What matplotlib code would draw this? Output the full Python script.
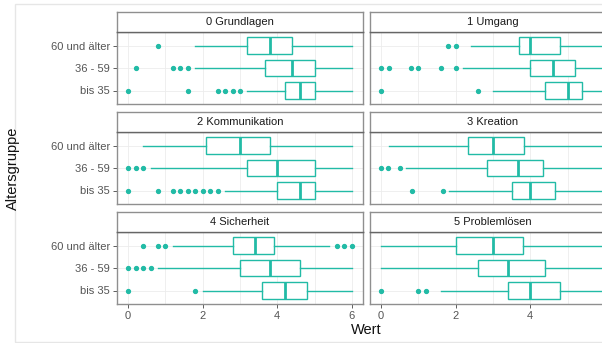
import matplotlib
matplotlib.use('Agg')
from matplotlib import pyplot as plt
from matplotlib.patches import Rectangle

TEAL = '#22bba6'
GRID = '#ececec'
BORDER = '#8f8f8f'

groups = ['bis 35', '36 - 59', '60 und älter']
panels = ['0 Grundlagen', '1 Umgang', '2 Kommunikation',
          '3 Kreation', '4 Sicherheit', '5 Problemlösen']

# whislo, q1, median, q3, whishi  (order: bis 35, 36 - 59, 60 und älter)
boxes = {
    '0 Grundlagen':    [(3.2, 4.2, 4.6, 5.0, 6.0), (1.8, 3.67, 4.4, 5.0, 6.0), (1.8, 3.2, 3.8, 4.4, 6.0)],
    '1 Umgang':        [(3.0, 4.4, 5.0, 5.4, 6.0), (2.2, 4.0, 4.6, 5.2, 6.0), (2.4, 3.7, 4.0, 4.8, 6.0)],
    '2 Kommunikation': [(2.6, 4.0, 4.6, 5.0, 6.0), (0.6, 3.2, 4.0, 5.0, 6.0), (0.4, 2.1, 3.0, 3.8, 6.0)],
    '3 Kreation':      [(1.83, 3.5, 4.0, 4.67, 6.0), (0.67, 2.83, 3.67, 4.33, 6.0), (0.2, 2.33, 3.0, 3.83, 6.0)],
    '4 Sicherheit':    [(2.0, 3.6, 4.2, 4.8, 6.0), (0.8, 3.0, 3.8, 4.6, 6.0), (1.2, 2.8, 3.4, 3.9, 5.4)],
    '5 Problemlösen':  [(1.6, 3.4, 4.0, 4.8, 6.0), (0.0, 2.6, 3.4, 4.4, 6.0), (0.0, 2.0, 3.0, 3.8, 6.0)],
}
outliers = {
    '0 Grundlagen':    [[0, 1.6, 2.4, 2.6, 2.8, 3.0], [0.2, 1.2, 1.4, 1.6], [0.8]],
    '1 Umgang':        [[0, 2.6], [0, 0.2, 0.8, 1.0, 1.6, 2.0], [1.8, 2.0]],
    '2 Kommunikation': [[0, 0.8, 1.2, 1.4, 1.6, 1.8, 2.0, 2.2, 2.4], [0, 0.2, 0.4], []],
    '3 Kreation':      [[0.83, 1.67], [0, 0.17, 0.5], []],
    '4 Sicherheit':    [[0, 1.8], [0, 0.2, 0.4, 0.6], [0.4, 0.8, 1.0, 5.6, 5.8, 6.0]],
    '5 Problemlösen':  [[0, 1.0, 1.2], [], []],
}
x_ticks = [0, 2, 4, 6]

plt.rcParams['font.family'] = ['Liberation Sans', 'DejaVu Sans']

W, H = 602, 343
fig = plt.figure(figsize=(W / 100, H / 100), dpi=100)

# faint frame of the original screenshot
fig.add_artist(Rectangle((15 / W, 1 - 342 / H), 700 / W, 338 / H, transform=fig.transFigure,
                         fill=False, edgecolor='#e6e6e6', lw=1))

col_x = [117, 370]
panel_w = 246
row_top = [32, 132, 232]
panel_h = 72
strip_h = 20

for i, name in enumerate(panels):
    r, c = divmod(i, 2)
    x0 = col_x[c]
    y_top = row_top[r]
    ax = fig.add_axes([x0 / W, 1 - (y_top + panel_h) / H, panel_w / W, panel_h / H])
    stats = []
    for j, g in enumerate(groups):
        lo, q1, med, q3, hi = boxes[name][j]
        stats.append(dict(whislo=lo, q1=q1, med=med, q3=q3, whishi=hi,
                          fliers=outliers[name][j], label=g))
    ax.bxp(stats, positions=[1, 2, 3], widths=0.75, orientation='horizontal',
           showcaps=False, patch_artist=True,
           boxprops=dict(facecolor='white', edgecolor=TEAL, linewidth=1.0),
           whiskerprops=dict(color=TEAL, linewidth=1.0),
           medianprops=dict(color=TEAL, linewidth=2.0),
           flierprops=dict(marker='o', markerfacecolor=TEAL, markeredgecolor=TEAL,
                           markersize=2.8, linestyle='none'))
    ax.set_xlim(-0.3, 6.3)
    ax.set_ylim(0.4, 3.6)
    ax.set_xticks(x_ticks)
    ax.set_xticks([1, 3, 5], minor=True)
    ax.set_yticks([1, 2, 3])
    ax.grid(True, which='both', color=GRID, linewidth=0.6)
    ax.set_axisbelow(True)
    for s in ax.spines.values():
        s.set_color(BORDER)
        s.set_linewidth(1.0)
    ax.tick_params(which='minor', length=0)
    ax.tick_params(axis='both', colors='#444444', labelcolor='#555555',
                   labelsize=8, length=3, width=0.6, pad=2)
    if c == 0:
        ax.set_yticklabels(groups)
    else:
        ax.set_yticklabels([])
        ax.tick_params(axis='y', length=0)
    if r == 2:
        labels = [str(t) for t in x_ticks]
        if c == 1:
            labels[-1] = ''  # falls outside the cropped picture
        ax.set_xticklabels(labels)
    else:
        ax.set_xticklabels([])
        ax.tick_params(axis='x', length=0)

    sx = fig.add_axes([x0 / W, 1 - y_top / H, panel_w / W, strip_h / H])
    sx.set_xticks([])
    sx.set_yticks([])
    for s in sx.spines.values():
        s.set_color(BORDER)
        s.set_linewidth(1.0)
    sx.spines['bottom'].set_color('#666666')
    sx.text(0.5, 0.48, name, ha='center', va='center', fontsize=8, color='#1a1a1a',
            transform=sx.transAxes)

fig.text(366 / W, 1 - 330 / H, 'Wert', ha='center', va='center', fontsize=10.5, color='#111111')
fig.text(13 / W, 1 - 168 / H, 'Altersgruppe', ha='center', va='center', rotation=90,
         fontsize=10.5, color='#111111')

fig.savefig('out.png', dpi=100)
